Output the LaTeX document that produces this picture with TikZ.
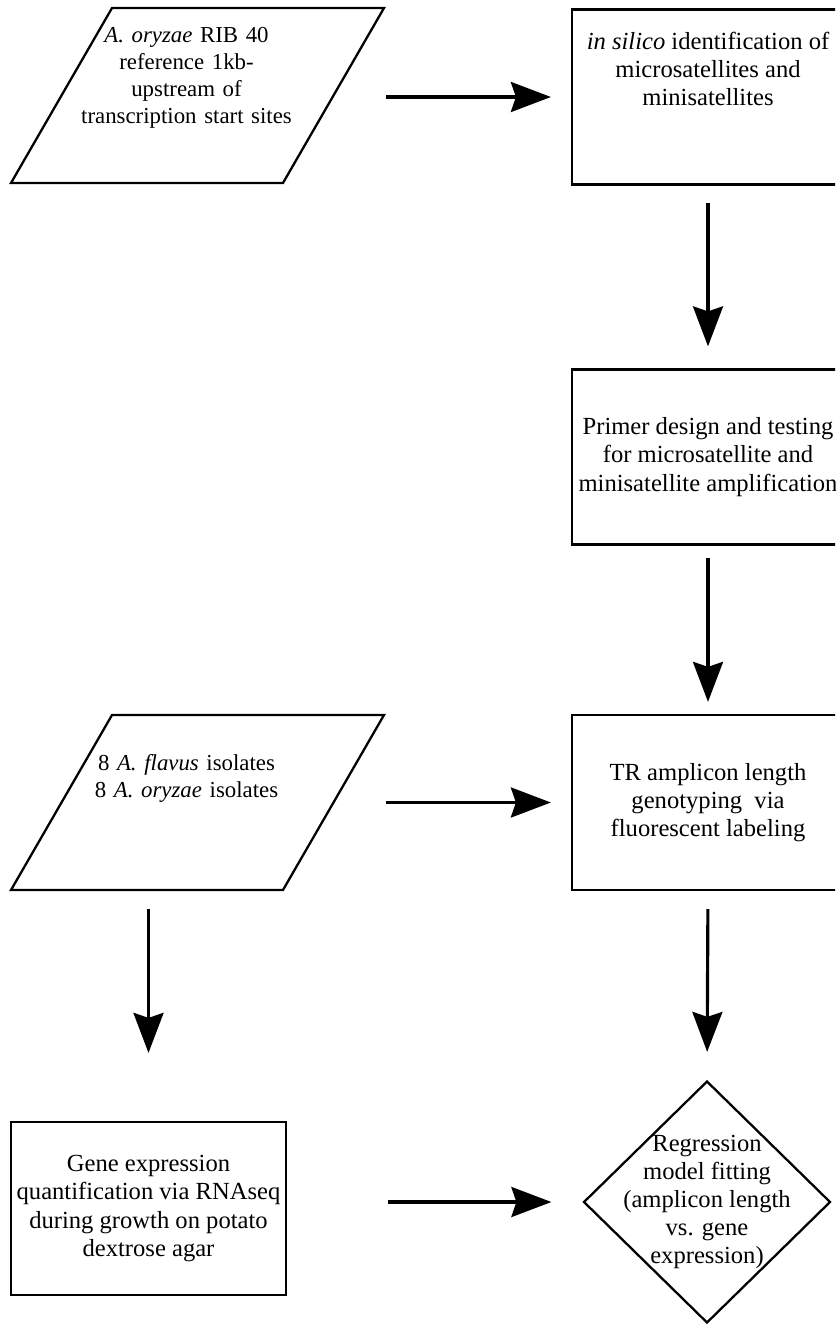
\documentclass[tikz,border=0pt]{standalone}
\usepackage{fontspec}
\setmainfont{Liberation Serif}
\usetikzlibrary{shapes.geometric, arrows.meta}

\begin{document}
\begin{tikzpicture}[
    x=0.02cm, y=-0.02cm,
    process/.style={rectangle, draw, line width=1.3pt, minimum width=5.44cm, minimum height=3.5cm, align=center, font=\fontsize{14pt}{16pt}\selectfont},
    data/.style={trapezium, trapezium left angle=60, trapezium right angle=120, draw, line width=1.3pt, inner xsep=-1.01cm, inner ysep=0pt, text width=5.44cm, align=center, font=\fontsize{13pt}{15.5pt}\selectfont},
    decision/.style={diamond, draw, line width=1.3pt, minimum width=4.94cm, minimum height=4.84cm, inner sep=0pt},
    flow/.style={-{Stealth[length=0.8cm, width=0.6cm, inset=0.1cm]}, line width=1.8pt}
]
    \useasboundingbox (0,0) rectangle (835,1324);
    \clip (0,0) rectangle (835,1324);

    % Inputs
    \node[data, text height=0.68cm, text depth=2.82cm] (reference) at (197.5,95.5) {
        \hspace*{-0.44cm}\begin{tabular}[t]{@{}c@{}}
        \textit{A. oryzae} RIB 40\\
        reference 1kb-\\
        upstream of\\
        transcription start sites
        \end{tabular}
    };

    \node[data, text height=1.1cm, text depth=2.4cm] (isolates) at (197.5,802.5) {
        \hspace*{-0.44cm}\begin{tabular}[t]{@{}c@{}}
        8 \textit{A. flavus} isolates\\
        8 \textit{A. oryzae} isolates
        \end{tabular}
    };

    % Steps
    \node[process] (insilico) at (708,97) {
        \textit{in silico} identification of\\
        microsatellites and\\
        minisatellites\\
        \mbox{}\\
        \mbox{}
    };

    \node[process] (primer) at (708,457) {
        Primer design and testing\\
        for microsatellite and\\
        minisatellite amplification
    };

    \node[process] (genotyping) at (708,802.5) {
        TR amplicon length\\
        genotyping~ via\\
        fluorescent labeling
    };

    \node[process, minimum width=5.42cm, minimum height=3.46cm] (expression) at (148.5,1208.5) {
        Gene expression\\
        quantification via RNAseq\\
        during growth on potato\\
        dextrose agar
    };

    \node[decision] (regression) at (707,1202) {};
    \node[align=center, font=\fontsize{14pt}{16pt}\selectfont] (regressiontext) at (regression.center) {
        Regression\\
        model fitting\\
        (amplicon length\\
        vs. gene\\
        expression)
    };

    % Flow
    \draw[flow, shorten >=0.4cm] (reference.top right corner |- insilico.west) -- (insilico.west);
    \draw[flow, shorten <=0.35cm, shorten >=0.44cm] (insilico.south) -- (primer.north);
    \draw[flow, shorten <=0.25cm, shorten >=0.24cm] (primer.south) -- (genotyping.north);
    \draw[flow, shorten >=0.4cm] (isolates.top right corner |- genotyping.west) -- (genotyping.west);
    \draw[flow, shorten <=0.36cm, shorten >=0.56cm] (genotyping.south) -- (regression.north);
    \draw[flow, shorten <=0.36cm, shorten >=1.36cm] (isolates.south -| expression.north) -- (expression.north);
    \draw[flow, shorten >=0.62cm] ([xshift=2.02cm]expression.east |- regression.west) -- (regression.west);

\end{tikzpicture}
\end{document}
